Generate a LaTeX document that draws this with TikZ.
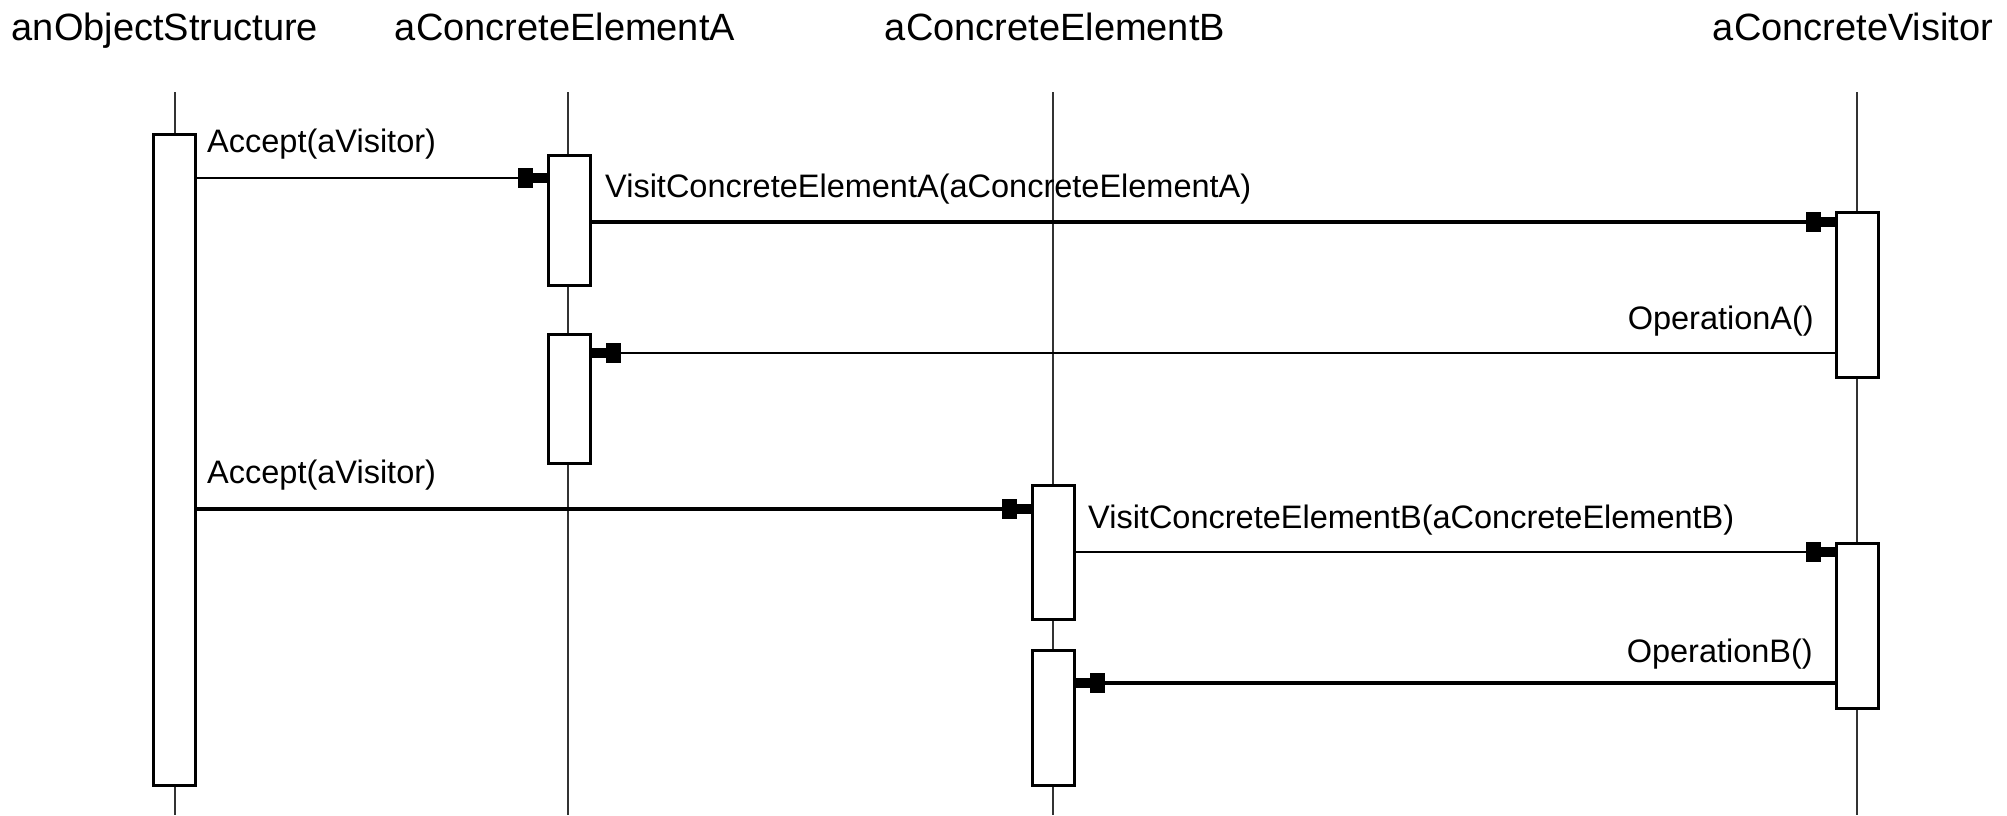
\documentclass[tikz,border=0pt]{standalone}
\usepackage{fontspec}
\setmainfont{Liberation Sans}
\usetikzlibrary{arrows.meta}
\begin{document}
\begin{tikzpicture}[x=1pt,y=-1pt,
  life/.style={line width=1.6pt, draw=black!80},
  act/.style={draw, line width=3pt, fill=white, minimum width=42pt, inner sep=0pt},
  title/.style={font=\fontsize{38}{40}\selectfont, anchor=base, inner sep=0pt},
  lbl/.style={font=\fontsize{32.5}{34}\selectfont, inner sep=0pt},
  head/.style={-{Rectangle[length=15pt,width=20pt,line width=0pt,sep=0pt]Rectangle[length=14pt,width=10pt,line width=0pt,sep=0pt]}},
  thinmsg/.style={head, line width=2pt},
  thickmsg/.style={head, line width=3.6pt}]
\useasboundingbox (0,0) rectangle (2007,815);
% titles
\node[title] (tos) at (165,40) {anObjectStructure};
\node[title] (tea) at (565,40) {aConcreteElementA};
\node[title] (teb) at (1055,40) {aConcreteElementB};
\node[title] (tv) at (1853,40) {aConcreteVisitor};
% lifelines
\coordinate (osT) at (175,92);  \coordinate (osB) at (175,815);
\coordinate (eaT) at (568,92);  \coordinate (eaB) at (568,815);
\coordinate (ebT) at (1053,92); \coordinate (ebB) at (1053,815);
\coordinate (vT) at (1857,92);  \coordinate (vB) at (1857,815);
\draw[life] (osT) -- (osB);
\draw[life] (eaT) -- (eaB);
\draw[life] (ebT) -- (ebB);
\draw[life] (vT) -- (vB);
% activations
\node[act, minimum height=651pt] (os) at (174,459.5) {};
\node[act, minimum height=130pt] (a1) at (569.5,220) {};
\node[act, minimum height=129pt] (a2) at (569.5,398.5) {};
\node[act, minimum height=134pt] (b1) at (1053.5,552) {};
\node[act, minimum height=135pt] (b2) at (1053.5,717.5) {};
\node[act, minimum height=165pt] (v1) at (1857.5,294.5) {};
\node[act, minimum height=165pt] (v2) at (1857.5,625.5) {};
% message levels
\coordinate (m1) at (0,178);
\coordinate (m2) at (0,222);
\coordinate (m3) at (0,353);
\coordinate (m4) at (0,509);
\coordinate (m5) at (0,552);
\coordinate (m6) at (0,683);
% messages
\draw[thinmsg] (os.east |- m1) -- (a1.west |- m1);
\draw[thickmsg] (a1.east |- m2) -- (v1.west |- m2);
\draw[thinmsg] (v1.west |- m3) -- (a2.east |- m3);
\draw[thickmsg] (os.east |- m4) -- (b1.west |- m4);
\draw[thinmsg] (b1.east |- m5) -- (v2.west |- m5);
\draw[thickmsg] (v2.west |- m6) -- (b2.east |- m6);
% labels
\node[lbl, anchor=base west] (l1) at (207,152) {Accept(aVisitor)};
\node[lbl, anchor=base west] (l2) at (605,197) {VisitConcreteElementA(aConcreteElementA)};
\node[lbl, anchor=base east] (l3) at (1814,329) {OperationA()};
\node[lbl, anchor=base west] (l4) at (207,483) {Accept(aVisitor)};
\node[lbl, anchor=base west] (l5) at (1088,528) {VisitConcreteElementB(aConcreteElementB)};
\node[lbl, anchor=base east] (l6) at (1813,662) {OperationB()};
\end{tikzpicture}
\end{document}
